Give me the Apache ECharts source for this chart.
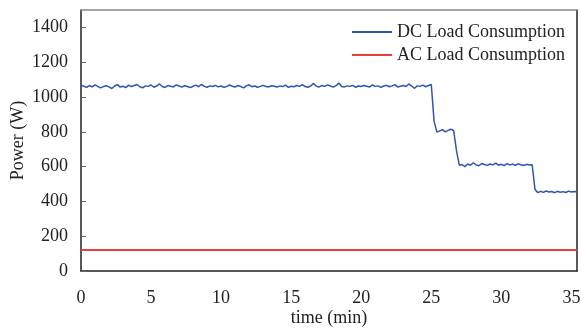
<!DOCTYPE html>
<html>
<head>
<meta charset="utf-8">
<script src="https://cdn.jsdelivr.net/npm/echarts@6/dist/echarts.min.js"></script>
<style>
  html, body { margin: 0; padding: 0; background: #fff; }
  #chart { width: 581px; height: 329px; }
</style>
</head>
<body>
<div id="chart"></div>
<script>
// sampling grid of the logger (minutes)
const timeStep = 0.2;

// DC load, W, one reading every timeStep
const dcLoad = [
  1068,1062,1055,1066,1058,1070,1061,1052,1060,1065,
  1058,1049,1063,1071,1057,1062,1054,1068,1060,1066,
  1072,1059,1053,1064,1061,1069,1056,1063,1075,1060,
  1055,1066,1062,1058,1070,1063,1057,1065,1060,1054,
  1062,1068,1059,1073,1061,1056,1064,1060,1067,1058,
  1063,1055,1061,1069,1062,1057,1066,1060,1052,1064,
  1070,1059,1063,1056,1061,1067,1060,1058,1065,1062,
  1057,1064,1060,1068,1055,1062,1059,1066,1061,1071,
  1060,1056,1064,1078,1062,1058,1066,1061,1070,1063,
  1057,1065,1080,1060,1058,1064,1061,1067,1056,1063,
  1060,1066,1062,1058,1069,1061,1064,1055,1063,1067,
  1059,1064,1071,1058,1062,1066,1060,1075,1063,1050,
  1064,1061,1068,1059,1066,1072,
  860,798,805,812,800,808,815,806,
  690,608,612,600,615,608,622,610,605,618,612,607,615,610,620,608,
  613,606,617,610,614,608,616,611,606,613,609,610,
  470,450,458,452,460,454,457,450,458,453,456,451,459,454,457,455
];

// AC load, W (flat)
const acTime = [0, 35.4];
const acLoad = [120, 120];

const xTicks = [0, 35.4, 5];      // min, max, interval
const yTicks = [0, 1500, 200];

const seriesNames = ['DC Load Consumption', 'AC Load Consumption'];

const dcData = dcLoad.map((v, i) => [+(i * timeStep).toFixed(1), v]);
const acData = acTime.map((t, i) => [t, acLoad[i]]);

const font = 'Liberation Serif, Times New Roman, serif';
const txt = { fontFamily: font, fontSize: 18, color: '#222' };
const plain = v => String(v);

const chart = echarts.init(document.getElementById('chart'));
chart.setOption({
  animation: false,
  textStyle: { fontFamily: font },
  grid: { left: 81, right: 4, top: 10, bottom: 58, outerBoundsMode: 'none', containLabel: false },
  legend: {
    data: seriesNames,
    orient: 'vertical',
    right: 11,
    top: 18,
    itemWidth: 40,
    itemHeight: 2,
    itemGap: 5,
    icon: 'rect',
    textStyle: txt
  },
  xAxis: [{
    type: 'value',
    min: xTicks[0], max: xTicks[1], interval: xTicks[2],
    name: 'time (min)',
    nameLocation: 'middle',
    nameGap: 38,
    nameMoveOverlap: false,
    nameTextStyle: txt,
    axisLine: { onZero: false, lineStyle: { color: '#222', width: 1.5 } },
    axisTick: { show: false },
    axisLabel: Object.assign({ margin: 18, showMaxLabel: false, formatter: plain }, txt),
    splitLine: { show: false }
  }, {
    type: 'value', position: 'top',
    min: xTicks[0], max: xTicks[1],
    axisLine: { show: true, onZero: false, lineStyle: { color: '#888', width: 1.5 } },
    axisTick: { show: false }, axisLabel: { show: false }, splitLine: { show: false }
  }],
  yAxis: [{
    type: 'value',
    min: yTicks[0], max: yTicks[1], interval: yTicks[2],
    name: 'Power (W)',
    nameLocation: 'middle',
    nameGap: 54,
    nameMoveOverlap: false,
    nameTextStyle: txt,
    axisLine: { show: true, onZero: false, lineStyle: { color: '#222', width: 1.5 } },
    axisTick: { show: true, inside: true, length: 5, lineStyle: { color: '#666' } },
    axisLabel: Object.assign({ margin: 13, showMaxLabel: false, formatter: plain }, txt),
    splitLine: { show: false }
  }, {
    type: 'value', position: 'right',
    min: yTicks[0], max: yTicks[1],
    axisLine: { show: true, onZero: false, lineStyle: { color: '#222', width: 1.5 } },
    axisTick: { show: false }, axisLabel: { show: false }, splitLine: { show: false }
  }],
  series: [{
    name: seriesNames[0],
    type: 'line',
    data: dcData,
    showSymbol: false,
    lineStyle: { color: '#2c56b0', width: 1.5 },
    itemStyle: { color: '#2c56b0' }
  }, {
    name: seriesNames[1],
    type: 'line',
    data: acData,
    showSymbol: false,
    lineStyle: { color: '#e8403f', width: 2 },
    itemStyle: { color: '#e8403f' }
  }]
});
</script>
</body>
</html>
